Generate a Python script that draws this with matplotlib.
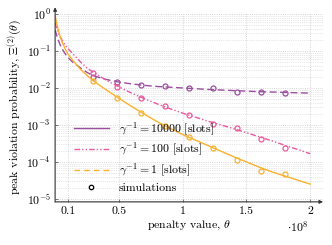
import numpy as np
import matplotlib
matplotlib.use("Agg")
import matplotlib.pyplot as plt
from matplotlib.lines import Line2D


# ============================================================
# Data (theta in units of 1e8)
# ============================================================

THETA_CURVE = [0.0, 0.01, 0.02, 0.03, 0.04, 0.06, 0.08, 0.1, 0.14, 0.2, 0.25,
               0.3, 0.4, 0.5, 0.6, 0.7, 0.8, 0.9, 1.0, 1.1, 1.2, 1.3, 1.4,
               1.5, 1.6, 1.7, 1.8, 1.9, 2.0]

# log10 of the analytical curves
LOG_G10000 = [-0.43, -0.55, -0.66, -0.75, -0.84, -0.97, -1.08, -1.17, -1.31,
              -1.46, -1.58, -1.67, -1.77, -1.84, -1.89, -1.93, -1.96, -1.98,
              -2.0, -2.02, -2.04, -2.055, -2.07, -2.085, -2.1, -2.11, -2.12,
              -2.13, -2.14]
LOG_G100 = [-0.24, -0.35, -0.45, -0.55, -0.62, -0.74, -0.84, -0.93, -1.08,
            -1.3, -1.46, -1.58, -1.79, -1.97, -2.14, -2.29, -2.43, -2.56,
            -2.68, -2.79, -2.9, -3.0, -3.1, -3.21, -3.32, -3.43, -3.55,
            -3.66, -3.78]
LOG_G1 = [-0.03, -0.22, -0.36, -0.5, -0.62, -0.8, -0.95, -1.08, -1.26,
          -1.5, -1.66, -1.81, -2.05, -2.28, -2.5, -2.71, -2.91, -3.09,
          -3.26, -3.41, -3.56, -3.71, -3.86, -4.0, -4.14, -4.27, -4.38,
          -4.49, -4.6]

THETA_SIM = [0.3, 0.4875, 0.675, 0.8625, 1.05, 1.2375, 1.425, 1.6125, 1.8]
SIM_G10000 = [0.0199, 0.0145, 0.0120, 0.0113, 0.0100, 0.0100, 0.0078,
              0.0078, 0.0073]
SIM_G100 = [0.0254, 0.0107, 0.0054, 0.0032, 0.0019, 0.00107, 0.00083,
            0.00042, 0.00024]
SIM_G1 = [0.0155, 0.0054, 0.0021, 0.00094, 0.00048, 0.00024, 0.000112,
          5.7e-5, 4.8e-5]

X_TICKS = [0.1, 0.5, 1.0, 1.5, 2.0]
X_TICK_LABELS = ["0.1", "0.5", "1", "1.5", "2"]

LABELS = [r"$\gamma^{-1} = 10000$ [slots]",
          r"$\gamma^{-1} = 100$ [slots]",
          r"$\gamma^{-1} = 1$ [slots]"]

PURPLE = "#9b4f9f"
PINK = "#e85a9f"
ORANGE = "#f8b22e"

DASH_LONG = (5, 2.5)
DASH_DOTDOT = (4, 1.5, 1, 1.5, 1, 1.5)
DASH_SHORT = (4, 3)

FONT_SIZE = 8.5


def main() -> None:
    plt.rcParams["font.family"] = "serif"
    plt.rcParams["font.serif"] = ["cmr10"]
    plt.rcParams["mathtext.fontset"] = "cm"
    plt.rcParams["axes.formatter.use_mathtext"] = True
    plt.rcParams["font.size"] = FONT_SIZE

    fig = plt.figure(figsize=(3.32, 2.45), dpi=100)
    ax = fig.add_axes([0.166, 0.176, 0.807, 0.775])

    theta = np.array(THETA_CURVE)
    curves = [
        (LOG_G10000, SIM_G10000, PURPLE, DASH_LONG),
        (LOG_G100, SIM_G100, PINK, DASH_DOTDOT),
        (LOG_G1, SIM_G1, ORANGE, None),
    ]

    for log_vals, sim_vals, color, dashes in curves:
        line, = ax.plot(theta, 10.0 ** np.array(log_vals),
                        color=color, linewidth=1.0)
        if dashes is not None:
            line.set_dashes(dashes)
        ax.plot(THETA_SIM, sim_vals, linestyle="none", marker="o",
                markersize=3.6, markerfacecolor="none",
                markeredgecolor=color, markeredgewidth=0.9)

    ax.set_yscale("log")
    ax.set_xlim(0.0, 2.1)
    ax.set_ylim(10 ** -5.08, 10 ** 0.054)
    ax.set_yticks([1e0, 1e-1, 1e-2, 1e-3, 1e-4, 1e-5])
    ax.set_xticks(X_TICKS)
    ax.set_xticklabels(X_TICK_LABELS)

    ax.grid(which="major", color="#c8c8c8", linestyle=":", linewidth=0.6)
    ax.grid(which="minor", axis="y", color="#d0d0d0", linestyle=":",
            linewidth=0.5)
    ax.tick_params(which="both", direction="in", length=2, width=0.5,
                   color="#444444", pad=3)
    ax.tick_params(which="minor", length=0)

    for side in ["top", "right", "left", "bottom"]:
        ax.spines[side].set_visible(False)

    arrow = dict(arrowstyle="-|>", lw=0.8, color="#333333",
                 mutation_scale=5, shrinkA=0, shrinkB=0)
    ax.annotate("", xy=(1.0, 0.0), xytext=(0.0, 0.0),
                xycoords="axes fraction", arrowprops=arrow)
    ax.annotate("", xy=(0.0, 1.025), xytext=(0.0, 0.0),
                xycoords="axes fraction", arrowprops=arrow)

    ax.set_xlabel(r"penalty value, $\theta$", labelpad=2)
    ax.set_ylabel(r"peak violation probability, $\Xi^{(2)}(\theta)$",
                  labelpad=2)
    fig.text(0.865, 0.055, r"$\cdot 10^8$", fontsize=FONT_SIZE)

    handles = [
        Line2D([], [], color=PURPLE, linewidth=1.0),
        Line2D([], [], color=PINK, linewidth=1.0, dashes=DASH_DOTDOT),
        Line2D([], [], color=ORANGE, linewidth=1.0, dashes=DASH_SHORT),
        Line2D([], [], linestyle="none", marker="o", markersize=3.2,
               markerfacecolor="none", markeredgecolor="black",
               markeredgewidth=0.9),
    ]
    ax.legend(handles, LABELS + ["simulations"], loc="lower left",
              bbox_to_anchor=(0.03, -0.01), frameon=False, handlelength=3.0,
              handletextpad=0.8, labelspacing=0.3, fontsize=FONT_SIZE)

    fig.savefig("out.png", dpi=100)
    plt.close(fig)


if __name__ == "__main__":
    main()
